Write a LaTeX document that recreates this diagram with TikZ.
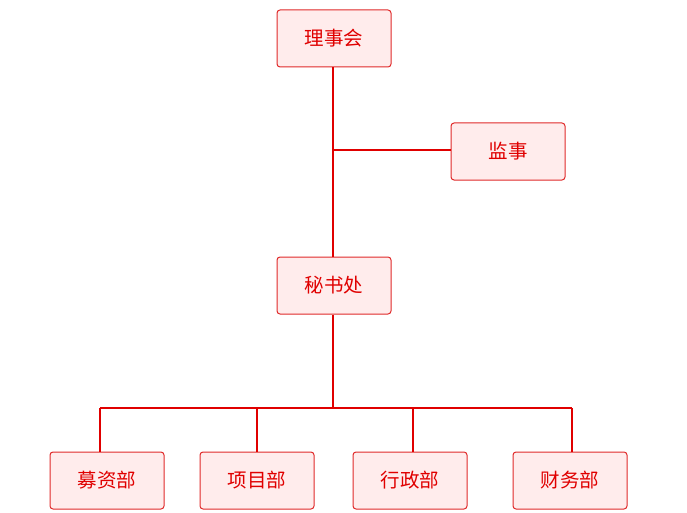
\documentclass[tikz,border=0pt]{standalone}
\usepackage{fontspec}
\newfontfamily\cjk{Noto Sans CJK SC}
\definecolor{OrgRed}{HTML}{E00000}
\definecolor{OrgLine}{HTML}{E02A2A}
\definecolor{OrgSoft}{HTML}{FFECEC}
\usetikzlibrary{positioning}

\tikzset{
  orgbox/.style={
    fill=OrgSoft,
    draw=OrgLine,
    line width=1pt,
    rounded corners=3pt,
    minimum width=114pt,
    minimum height=57pt,
    inner sep=0pt,
    text=OrgRed,
    font=\cjk\fontsize{19.5}{21}\selectfont
  },
  orgline/.style={draw=OrgRed, line width=2pt}
}

\begin{document}
\begin{tikzpicture}[x=1pt, y=-1pt]
    \useasboundingbox (0,0) rectangle (687,513);

    \node[orgbox] (board) at (334,38.5) {理事会};
    \node[orgbox] (super) at (508,151.5) {监事};
    \node[orgbox] (office) at (334,285.5) {秘书处};

    \node[orgbox] (fund) at (107,480.5) {募资部};
    \node[orgbox] (proj) at (257,480.5) {项目部};
    \node[orgbox] (admin) at (410,480.5) {行政部};
    \node[orgbox] (fin) at (570,480.5) {财务部};

    % board to office, with branch to supervisor
    \coordinate (sj) at (333,150);
    \draw[orgline] (board.south -| sj) -- (office.north -| sj);
    \draw[orgline] (sj) -- (super.west |- sj);

    % office to departments
    \coordinate (bus) at (333,408);
    \draw[orgline] (office.south -| bus) -- (bus);
    \draw[orgline] (100,408) -- (572,408);
    \foreach \d/\x in {fund/100,proj/257,admin/413,fin/572}
      \draw[orgline] (\x,408) -- (\d.north -| \x,0);
  \end{tikzpicture}
\end{document}
